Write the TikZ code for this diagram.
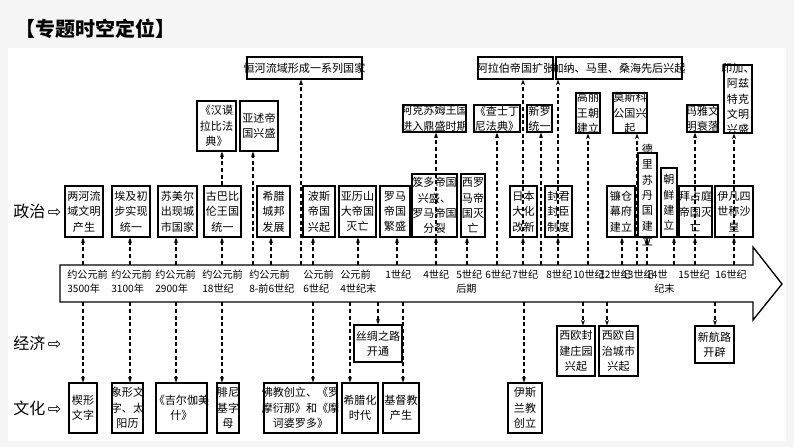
\documentclass[tikz,border=0pt]{standalone}
\usepackage{fontspec}
\setmainfont{Noto Sans CJK SC}
\newfontfamily\symf{DejaVu Sans}
\usetikzlibrary{fit,arrows.meta}
\tikzset{
 box/.style={draw,line width=0.9pt,inner sep=0pt},
 txt/.style={align=center,font=\fontsize{8.3}{11.5}\selectfont,inner sep=0pt},
 tlt/.style={align=left,anchor=north west,font=\fontsize{7.6}{10.5}\selectfont,inner sep=0pt},
 conn/.style={densely dashed,line width=0.8pt,-{Stealth[length=4pt,width=3pt]}},
 rowlab/.style={font=\fontsize{12}{12}\selectfont,anchor=west,inner sep=0pt}
}
\newcommand\bx[6]{\node[box,fit={(#2,#3)(#4,#5)}] (#1) {}; \node[txt] (#1t) at (#1.center) {#6};}
\newcommand\up[3]{\draw[conn] (#1,0 |- #2) -- (#1,0 |- #3);}
\begin{document}
\begin{tikzpicture}[x=0.75pt,y=-0.75pt]
\useasboundingbox (0,0) rectangle (794,447);
\fill[black!4] (0,0) rectangle (794,447);
\fill[white] (8,48) rectangle (786,441);
\node[anchor=west,font=\fontsize{15}{15}\selectfont\bfseries,inner sep=0pt] (title) at (15,29) {【专题时空定位】};
% row labels
\node[rowlab] (lz) at (13,211) {政治\,{\symf ⇨}};
\node[rowlab] (lj) at (13,343) {经济\,{\symf ⇨}};
\node[rowlab] (lw) at (13,408) {文化\,{\symf ⇨}};
% timeline
\draw[line width=1pt] (60,265)--(753,265)--(753,247)--(782,284)--(753,320)--(753,302)--(60,302)--cycle;
\node[fit={(60,265)(753,302)},inner sep=0pt] (tl) {};
% timeline labels
\node[tlt] (d1) at (67,270) {约公元前\\3500年};
\node[tlt] (d2) at (111,270) {约公元前\\3100年};
\node[tlt] (d3) at (155,270) {约公元前\\2900年};
\node[tlt] (d4) at (202,270) {约公元前\\18世纪};
\node[tlt] (d5) at (249,270) {约公元前\\8-前6世纪};
\node[tlt] (d6) at (303,270) {公元前\\6世纪};
\node[tlt] (d7) at (340,270) {公元前\\4世纪末};
\node[tlt] (d8) at (385,270) {1世纪};
\node[tlt] (d9) at (423,270) {4世纪};
\node[tlt] (d10) at (456,270) {5世纪\\后期};
\node[tlt] (d11) at (485,270) {6世纪};
\node[tlt] (d12) at (512,270) {7世纪};
\node[tlt] (d13) at (546,270) {8世纪};
\node[tlt] (d14) at (573,270) {10世纪};
\node[tlt] (d15) at (599,270) {12世纪};
\node[tlt] (d16) at (622,270) {13世纪};
\node[tlt] (d17) at (646,270) {14世\\\hspace*{6pt}纪末};
\node[tlt] (d18) at (678,270) {15世纪};
\node[tlt] (d19) at (715,270) {16世纪};
% politics row
\bx{p1}{65}{186}{103}{237}{两河流\\域文明\\产生}
\bx{p2}{112}{186}{150}{237}{埃及初\\步实现\\统一}
\bx{p3}{158}{186}{197}{237}{苏美尔\\出现城\\市国家}
\bx{p4}{204}{186}{241}{237}{古巴比\\伦王国\\统一}
\bx{p5}{257}{186}{290}{237}{希腊\\城邦\\发展}
\bx{p6}{303}{186}{335}{237}{波斯\\帝国\\兴起}
\bx{p7}{339}{186}{376}{237}{亚历山\\大帝国\\灭亡}
\bx{p8}{380}{186}{410}{237}{罗马\\帝国\\繁盛}
\bx{p9}{412}{174}{457}{237}{笈多帝国\\兴盛、\\罗马帝国\\分裂}
\bx{p10}{461}{174}{485}{237}{西罗\\马帝\\国灭\\亡}
\bx{p11}{510}{186}{537}{237}{日本\\大化\\改新}
\bx{p12}{545}{186}{572}{237}{封君\\封臣\\制度}
\bx{p13}{607}{186}{635}{237}{镰仓\\幕府\\建立}
\bx{p14}{638}{153}{657}{237}{德\\里\\苏\\丹\\国\\建\\立}
\bx{p15}{661}{168}{677}{237}{朝\\鲜\\建\\立}
\bx{p16}{679}{186}{712}{237}{拜占庭\\帝国灭\\亡}
\bx{p17}{715}{186}{753}{237}{伊凡四\\世称沙\\皇}
% upper boxes
\bx{q1}{197}{101}{236}{151}{《汉谟\\拉比法\\典》}
\bx{q2}{240}{101}{278}{151}{亚述帝\\国兴盛}
\bx{q3}{247}{57}{362}{79}{恒河流域形成一系列国家}
\bx{q4}{403}{105}{466}{132}{阿克苏姆王国\\进入鼎盛时期}
\bx{q5}{474}{105}{520}{132}{《查士丁\\尼法典》}
\bx{q6}{478}{57}{553}{79}{阿拉伯帝国扩张}
\bx{q7}{527}{105}{552}{132}{新罗\\统一}
\bx{q8}{556}{57}{682}{79}{加纳、马里、桑海先后兴起}
\bx{q9}{576}{93}{600}{133}{高丽\\王朝\\建立}
\bx{q10}{613}{93}{647}{133}{莫斯科\\公国兴\\起}
\bx{q11}{687}{105}{718}{132}{玛雅文\\明衰落}
\bx{q12}{724}{65}{752}{133}{印加、\\阿兹\\特克\\文明\\兴盛}
% economy
\bx{e1}{354}{325}{402}{362}{丝绸之路\\开通}
\bx{e2}{557}{326}{595}{376}{西欧封\\建庄园\\兴起}
\bx{e3}{599}{326}{638}{376}{西欧自\\治城市\\兴起}
\bx{e4}{695}{326}{734}{363}{新航路\\开辟}
% culture
\bx{c1}{69}{383}{97}{433}{楔形\\文字}
\bx{c2}{112}{383}{143}{433}{象形文\\字、太\\阳历}
\bx{c3}{156}{383}{207}{433}{《吉尔伽美\\什》}
\bx{c4}{217}{383}{239}{433}{腓尼\\基字\\母}
\bx{c5}{264}{383}{337}{433}{佛教创立、《罗\\摩衍那》和《摩\\诃婆罗多》}
\bx{c6}{342}{383}{378}{433}{希腊化\\时代}
\bx{c7}{383}{383}{419}{433}{基督教\\产生}
\bx{c8}{508}{383}{542}{433}{伊斯\\兰教\\创立}
% connectors up
\up{83}{tl.north}{p1.south}
\up{130}{tl.north}{p2.south}
\up{176}{tl.north}{p3.south}
\up{222}{tl.north}{p4.south}
\up{222}{p4.north}{q1.south}
\up{253}{tl.north}{q2.south}
\up{271}{tl.north}{p5.south}
\up{301}{tl.north}{q3.south}
\up{313}{tl.north}{p6.south}
\up{358}{tl.north}{p7.south}
\up{397}{tl.north}{p8.south}
\up{436}{tl.north}{p9.south}
\up{436}{p9.south}{q4.south}
\up{467}{tl.north}{p10.south}
\up{497}{tl.north}{q5.south}
\up{523}{tl.north}{p11.south}
\up{523}{p11.south}{q6.south}
\up{541}{tl.north}{q7.south}
\up{558}{tl.north}{p12.south}
\up{558}{p12.south}{q8.south}
\up{588}{tl.north}{q9.south}
\up{622}{tl.north}{p13.south}
\up{637}{tl.north}{q10.south}
\up{647}{tl.north}{p14.south}
\up{674}{tl.north}{p15.south}
\up{695}{tl.north}{p16.south}
\up{695}{p16.south}{q11.south}
\up{734}{tl.north}{p17.south}
\up{734}{p17.south}{q12.south}
% connectors down
\up{83}{tl.south}{c1.north}
\up{130}{tl.south}{c2.north}
\up{176}{tl.south}{c3.north}
\up{222}{tl.south}{c4.north}
\up{313}{tl.south}{c5.north}
\up{350}{tl.south}{c6.north}
\up{378}{tl.south}{e1.north}
\up{403}{tl.south}{c7.north}
\up{524}{tl.south}{c8.north}
\up{583}{tl.south}{e2.north}
\up{607}{tl.south}{e3.north}
\up{715}{tl.south}{e4.north}
\end{tikzpicture}
\end{document}
